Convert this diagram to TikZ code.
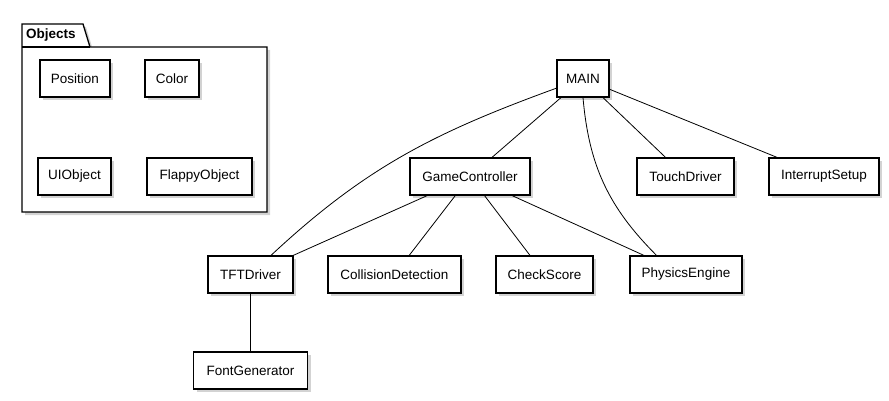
\documentclass[tikz,border=0pt]{standalone}
\usepackage{fontspec}
\setmainfont{Liberation Sans}
\usetikzlibrary{shadows,positioning}

\begin{document}
\begin{tikzpicture}[x=1pt,y=-1pt,node distance=96pt]
        \tikzstyle{cls}=[rectangle, line width=1.3pt, draw=black, fill=white, minimum height=37pt, inner sep=0pt, font=\fontsize{13.5}{16}\selectfont, drop shadow={shadow xshift=3pt, shadow yshift=-3pt, opacity=0.35}]
        \tikzstyle{link}=[line width=0.8pt, draw=black]
        \useasboundingbox (0,0) rectangle (889,401);
        % package with the plain data classes
        \filldraw [line width=1.3pt, fill=white, drop shadow={shadow xshift=3pt, shadow yshift=-3pt, opacity=0.35}]
          (22,47) -- (22,24) -- (83,24) -- (90,47) -- (267,47) -- (267,212) -- (22,212) -- cycle;
        \draw [line width=1.3pt] (22,47) -- (90,47);
        \node [anchor=west, inner sep=0pt, font=\fontsize{13.5}{16}\selectfont\bfseries] (pkg) at (26,35.5) {Objects};
        \begin{scope}
          \node [cls, minimum width=70pt] (pos) at (75,78.5) {Position};
          \node [cls, minimum width=54pt] (col) at (172,78.5) {Color};
          \node [cls, minimum width=73pt] (uio) at (74.5,176.5) {UIObject};
          \node [cls, minimum width=105pt] (flap) at (199.5,176.5) {FlappyObject};
        \end{scope}
        % modules
        \begin{scope}
          \node [cls, minimum width=52pt] (main) at (583,78.5) {MAIN};
          \node [cls, minimum width=120pt] (gc) at (470,176.5) {GameController};
          \node [cls, minimum width=97pt] (touch) at (685.5,176.5) {TouchDriver};
          \node [cls, minimum width=110pt] (intr) at (824,176.5) {InterruptSetup};
          \node [cls, minimum width=85pt] (tft) at (250.5,274.5) {TFTDriver};
          \node [cls, minimum width=133pt] (coll) at (394.5,274.5) {CollisionDetection};
          \node [cls, minimum width=97pt] (check) at (544.5,274.5) {CheckScore};
          \node [cls, minimum width=112pt] (phys) at (686,274.5) {PhysicsEngine};
          \node [cls, minimum width=114pt] (fg) [below of=tft] {FontGenerator};
        \end{scope}
        \draw [link] (main) to[out=200, in=43] (tft);
        \draw [link] (main) -- (gc);
        \draw [link] (main.south) to[out=-85, in=135] (phys.147);
        \draw [link] (main) -- (touch);
        \draw [link] (main) -- (intr);
        \draw [link] (gc) -- (tft);
        \draw [link] (gc) -- (coll);
        \draw [link] (gc) -- (check);
        \draw [link] (gc) -- (phys);
        \draw [link] (tft) -- (fg);
      \end{tikzpicture}
\end{document}
